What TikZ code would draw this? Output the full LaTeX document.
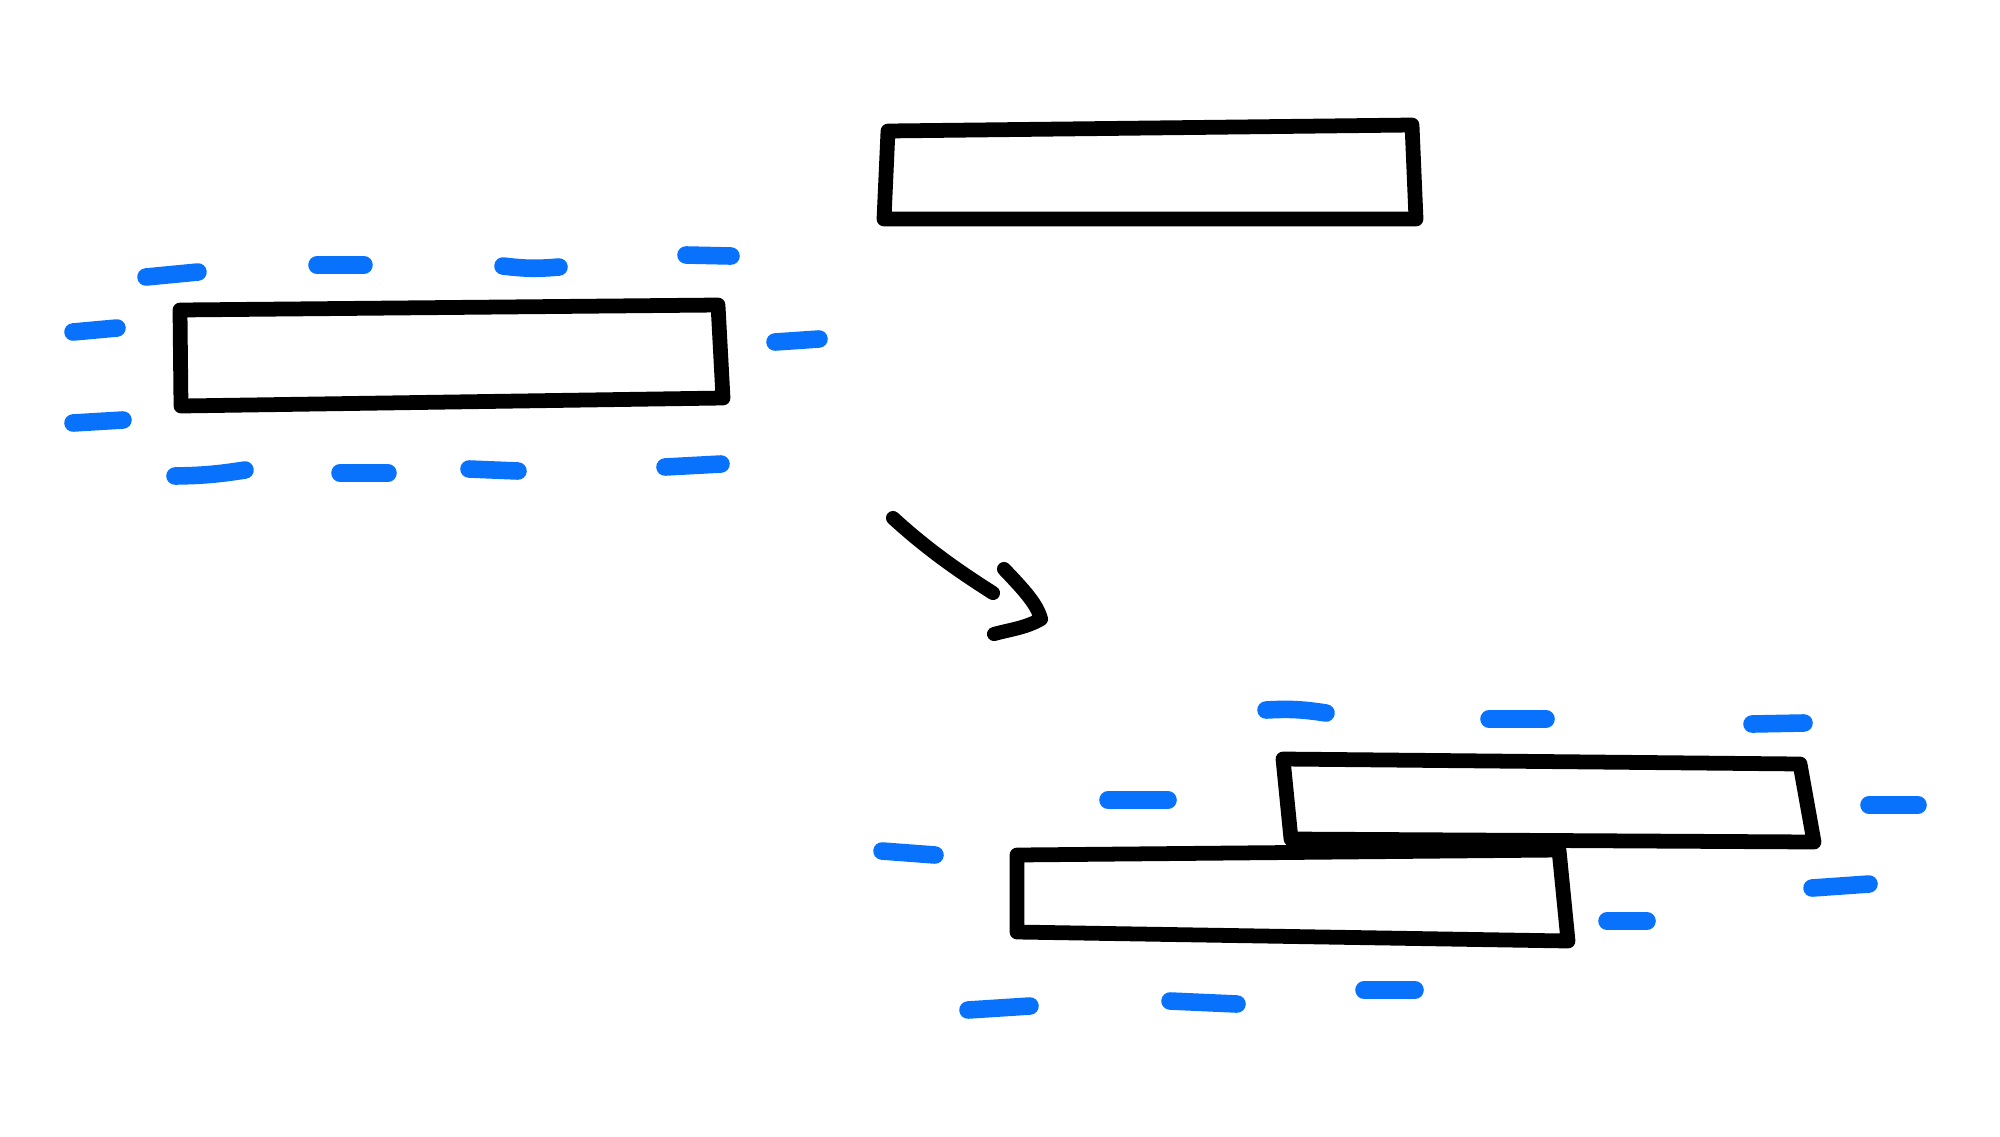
\documentclass[tikz,border=0pt]{standalone}
\usepackage{tikz}
\usetikzlibrary{calc}

\definecolor{chargeblue}{RGB}{8,114,252}

\tikzset{
    slab/.style={line width=4.2pt, line join=round, line cap=round, black},
    charge/.style={line width=5pt, line cap=round, chargeblue},
    stroke/.style={line width=4pt, line cap=round, line join=round, black}
}

\begin{document}
\begin{tikzpicture}[x=0.01cm, y=-0.01cm]
        \useasboundingbox (0,0) rectangle (2000,1136);
        % slab on its own, top
        \coordinate (P1) at (888,131);
        \coordinate (P2) at (1412,125);
        \coordinate (P3) at (1416,219);
        \coordinate (P4) at (884,219);
        \draw [slab] (P1) -- (P2) -- (P3) -- (P4) -- cycle;
        % charged slab, left
        \coordinate (L1) at (180,310);
        \coordinate (L2) at (718,305);
        \coordinate (L3) at (723,398);
        \coordinate (L4) at (181,406);
        \draw [slab] (L1) -- (L2) -- (L3) -- (L4) -- cycle;
        \draw [charge] (146,277) -- (198,272);
        \draw [charge] (317,265) -- (364,265);
        \draw [charge] (503,266) to [bend right=6] (559,267);
        \draw [charge] (686,255) -- (731,256);
        \draw [charge] (73,332) -- (117,328);
        \draw [charge] (775,342) -- (819,339);
        \draw [charge] (73,423) -- (123,420);
        \draw [charge] (175,476) to [bend right=4] (245,470);
        \draw [charge] (340,473) -- (388,473);
        \draw [charge] (469,469) -- (518,471);
        \draw [charge] (665,467) -- (721,464);
        % arrow
        \coordinate (S) at (893,518);
        \coordinate (E) at (993,593);
        \draw [stroke] (S) .. controls (928,550) and (960,572) .. (E);
        \coordinate (H1) at (1004,569);
        \coordinate (H2) at (1041,619);
        \coordinate (H3) at (994,634);
        \draw [stroke] (H1) .. controls (1024,590) and (1037,604) .. (H2)
              .. controls (1026,628) and (1008,630) .. (H3);
        % two slabs stacked, bottom right
        \coordinate (U1) at (1283,759);
        \coordinate (U2) at (1800,764);
        \coordinate (U3) at (1814,842);
        \coordinate (U4) at (1291,839);
        \draw [slab] (U1) -- (U2) -- (U3) -- (U4) -- cycle;
        \coordinate (D1) at (1017,855);
        \coordinate (D2) at (1559,850);
        \coordinate (D3) at (1568,941);
        \coordinate (D4) at (1017,932);
        \draw [slab] (D1) -- (D2) -- (D3) -- (D4) -- cycle;
        \draw [charge] (1266,710) to [bend left=6] (1326,713);
        \draw [charge] (1489,719) -- (1546,719);
        \draw [charge] (1752,724) -- (1804,723);
        \draw [charge] (1108,800) -- (1168,800);
        \draw [charge] (1869,805) -- (1918,805);
        \draw [charge] (882,851) -- (935,855);
        \draw [charge] (1812,888) -- (1869,884);
        \draw [charge] (1607,921) -- (1647,921);
        \draw [charge] (968,1010) -- (1030,1006);
        \draw [charge] (1170,1001) -- (1237,1004);
        \draw [charge] (1364,990) -- (1415,990);
    \end{tikzpicture}
\end{document}
